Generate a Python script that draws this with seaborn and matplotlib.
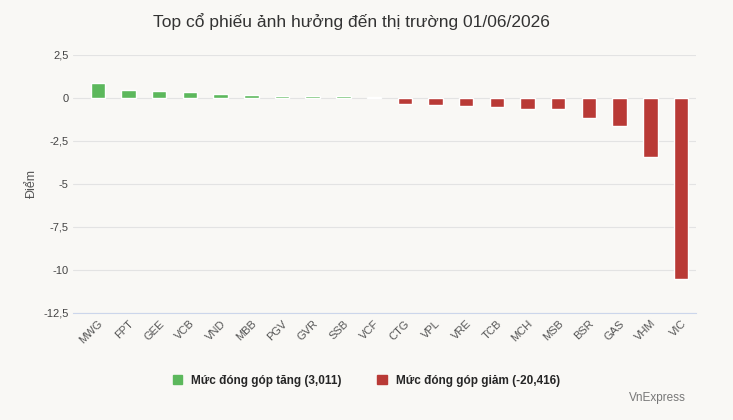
import matplotlib
matplotlib.use("Agg")
import matplotlib.pyplot as plt
import seaborn as sns
import pandas as pd

tickers = ["MWG","FPT","GEE","VCB","VND","MBB","PGV","GVR","SSB","VCF",
           "CTG","VPL","VRE","TCB","MCH","MSB","BSR","GAS","VHM","VIC"]
values = [0.85,0.45,0.4,0.35,0.22,0.15,0.1,0.08,0.07,0.06,
          -0.38,-0.42,-0.48,-0.55,-0.65,-0.65,-1.2,-1.65,-3.45,-10.55]
yticks = [2.5,0,-2.5,-5,-7.5,-10,-12.5]
ylabels = ["2,5","0","-2,5","-5","-7,5","-10","-12,5"]
title = "Top cổ phiếu ảnh hưởng đến thị trường 01/06/2026"
leg_up = "Mức đóng góp tăng (3,011)"
leg_down = "Mức đóng góp giảm (-20,416)"
green, red = "#5cb85c", "#b93a36"
bg = "#f9f8f5"

df = pd.DataFrame({"t": tickers, "v": values})
df["c"] = ["up" if v >= 0 else "down" for v in values]

sns.set_style("white")
plt.rcParams["font.family"] = ["Liberation Sans", "DejaVu Sans"]
fig = plt.figure(figsize=(7.33, 4.2), dpi=100, facecolor=bg)
ax = fig.add_axes([0.1, 0.255, 0.85, 0.615], facecolor=bg)
sns.barplot(data=df, x="t", y="v", hue="c", palette={"up": green, "down": red},
            dodge=False, width=0.47, ax=ax, legend=False, saturation=1)
ax.set_ylim(-12.5, 2.5)
ax.set_yticks(yticks)
ax.set_yticklabels(ylabels, fontsize=8, color="#444")
ax.grid(axis="y", color="#e3e3e3", lw=0.8)
ax.set_axisbelow(True)
for s in ["top", "right", "left"]:
    ax.spines[s].set_visible(False)
ax.spines["bottom"].set_color("#ccd6eb")
ax.set_xlabel("")
ax.set_ylabel("Điểm", fontsize=9, color="#555")
ax.tick_params(axis="x", labelrotation=45, labelsize=8, colors="#555", length=0, pad=4)
for lab in ax.get_xticklabels():
    lab.set_ha("right"); lab.set_rotation_mode("anchor")
ax.tick_params(axis="y", length=0)
ax.set_xlim(-0.8, 19.5)
fig.text(0.48, 0.935, title, ha="center", fontsize=12.5, color="#333")
from matplotlib.patches import Patch
fig.legend(handles=[Patch(color=green, label=leg_up), Patch(color=red, label=leg_down)],
           loc="center", bbox_to_anchor=(0.5, 0.093), ncol=2, frameon=False,
           prop={"size": 8.5, "weight": "bold"}, handlelength=0.8, handleheight=0.8,
           columnspacing=3)
fig.text(0.935, 0.045, "VnExpress", ha="right", fontsize=8.5, color="#777")
fig.savefig("out.png", dpi=100, facecolor=bg)
